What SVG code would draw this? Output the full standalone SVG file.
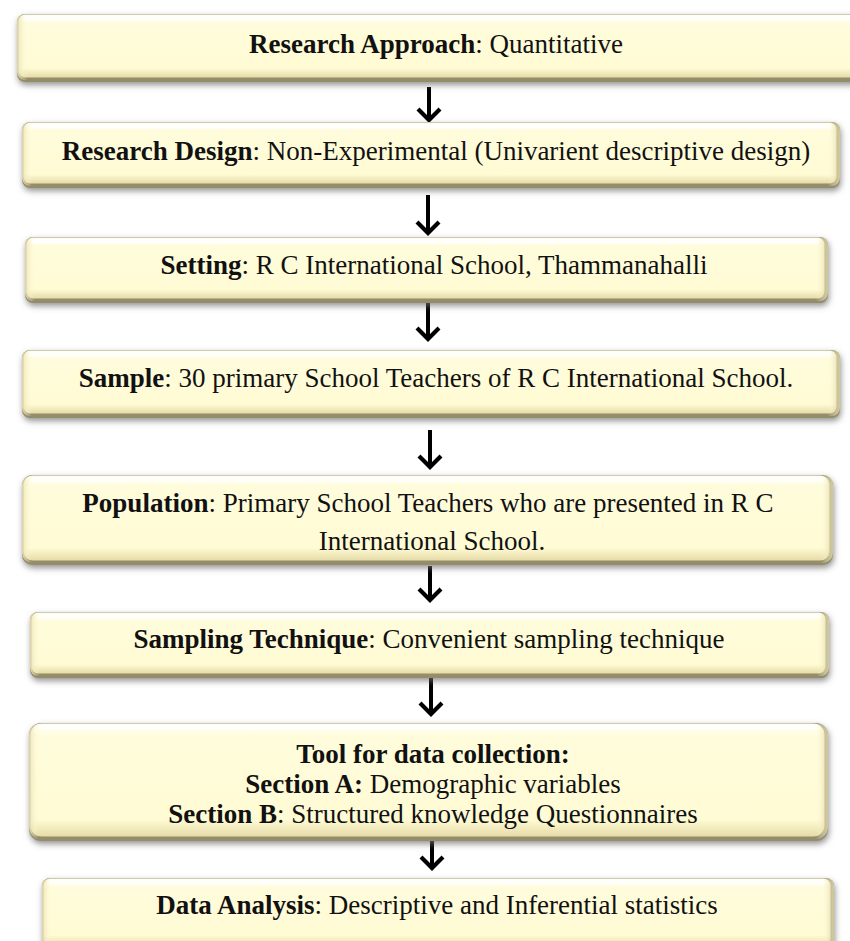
<svg xmlns="http://www.w3.org/2000/svg" width="850" height="941" viewBox="0 0 850 941">
  <defs>
    <!-- soft shadow under each bevelled box -->
    <filter id="shadow" x="-5%" y="-30%" width="110%" height="170%">
      <feDropShadow dx="1" dy="3" stdDeviation="3" flood-color="#6e6e6e" flood-opacity="0.75"/>
    </filter>
    <filter id="soft" x="-5%" y="-100%" width="110%" height="300%">
      <feGaussianBlur stdDeviation="1.2"/>
    </filter>
    <linearGradient id="faceFill" x1="0" y1="0" x2="0" y2="1">
      <stop offset="0" stop-color="#fffef2"/>
      <stop offset="0.12" stop-color="#fffcdc"/>
      <stop offset="0.85" stop-color="#fffbd4"/>
      <stop offset="1" stop-color="#e6dba8"/>
    </linearGradient>
    <linearGradient id="sideFill" x1="0" y1="0" x2="1" y2="0">
      <stop offset="0" stop-color="#e9dfb2" stop-opacity="0.9"/>
      <stop offset="0.012" stop-color="#fffbd6" stop-opacity="0"/>
      <stop offset="0.985" stop-color="#fffbd6" stop-opacity="0"/>
      <stop offset="1" stop-color="#d9cfa0" stop-opacity="0.9"/>
    </linearGradient>
    <!-- open chevron head, drawn along +x so orient="auto" turns it with the line -->
    <marker id="head" markerUnits="userSpaceOnUse" markerWidth="30" markerHeight="30" refX="26" refY="15" orient="auto" viewBox="0 0 30 30">
      <path d="M15,4 L26,15 L15,26" fill="none" stroke="#000" stroke-width="4.2" stroke-linejoin="miter" stroke-linecap="butt"/>
    </marker>
  </defs>
  <style>
    .edge { fill: #958c6a; filter: url(#shadow); }
    .face { fill: url(#faceFill); }
    .side { fill: url(#sideFill); }
    .shine { fill: #ffffff; opacity: 0.9; filter: url(#soft); }
    .label { font-family: "Liberation Serif", "Times New Roman", serif; font-size: 27px; fill: #111; text-anchor: middle; }
    .label .b { font-weight: bold; }
    .arrow { stroke: #000; stroke-width: 4; fill: none; marker-end: url(#head); }
  </style>

  <rect width="850" height="941" fill="#ffffff"/>

  <!-- connectors -->
  <g id="connectors">
    <line class="arrow" x1="429" y1="87" x2="429" y2="120"/>
    <line class="arrow" x1="428" y1="195" x2="428" y2="233"/>
    <line class="arrow" x1="428" y1="302" x2="428" y2="339"/>
    <line class="arrow" x1="430" y1="430" x2="430" y2="467"/>
    <line class="arrow" x1="430" y1="566" x2="430" y2="600"/>
    <line class="arrow" x1="431" y1="677" x2="431" y2="714"/>
    <line class="arrow" x1="432" y1="831" x2="432" y2="868"/>
  </g>

  <g id="research-approach">
    <rect class="edge" x="17" y="14" width="860" height="68" rx="8"/>
    <rect class="face" x="18.5" y="14.5" width="856" height="63" rx="7"/>
    <rect class="side" x="17" y="14" width="860" height="66" rx="8"/>
    <rect class="shine" x="24" y="16" width="846" height="5" rx="2.5"/>
    <text class="label" x="436" y="53"><tspan class="b">Research Approach</tspan>: Quantitative</text>
  </g>

  <g id="research-design">
    <rect class="edge" x="22" y="122" width="818" height="66" rx="8"/>
    <rect class="face" x="23.5" y="122.5" width="813" height="61" rx="7"/>
    <rect class="side" x="22" y="122" width="818" height="64" rx="8"/>
    <rect class="shine" x="29" y="124" width="802" height="5" rx="2.5"/>
    <text class="label" x="436" y="160"><tspan class="b">Research Design</tspan>: Non-Experimental (Univarient descriptive design)</text>
  </g>

  <g id="setting">
    <rect class="edge" x="25" y="237" width="803" height="66" rx="8"/>
    <rect class="face" x="26.5" y="237.5" width="798" height="61" rx="7"/>
    <rect class="side" x="25" y="237" width="803" height="64" rx="8"/>
    <rect class="shine" x="32" y="239" width="787" height="5" rx="2.5"/>
    <text class="label" x="434" y="274"><tspan class="b">Setting</tspan>: R C International School, Thammanahalli</text>
  </g>

  <g id="sample">
    <rect class="edge" x="22" y="350" width="818" height="68" rx="8"/>
    <rect class="face" x="23.5" y="350.5" width="813" height="63" rx="7"/>
    <rect class="side" x="22" y="350" width="818" height="66" rx="8"/>
    <rect class="shine" x="29" y="352" width="802" height="5" rx="2.5"/>
    <text class="label" x="436" y="387"><tspan class="b">Sample</tspan>: 30 primary School Teachers of R C International School.</text>
  </g>

  <g id="population">
    <rect class="edge" x="22" y="475" width="811" height="90" rx="10"/>
    <rect class="face" x="23.5" y="475.5" width="806" height="85" rx="9"/>
    <rect class="side" x="22" y="475" width="811" height="88" rx="10"/>
    <rect class="shine" x="30" y="477" width="794" height="5" rx="2.5"/>
    <text class="label" x="428" y="512"><tspan class="b">Population</tspan>: Primary School Teachers who are presented in R C</text>
    <text class="label" x="432" y="550">International School.</text>
  </g>

  <g id="sampling-technique">
    <rect class="edge" x="30" y="612" width="799" height="66" rx="8"/>
    <rect class="face" x="31.5" y="612.5" width="794" height="61" rx="7"/>
    <rect class="side" x="30" y="612" width="799" height="64" rx="8"/>
    <rect class="shine" x="37" y="614" width="783" height="5" rx="2.5"/>
    <text class="label" x="429" y="648"><tspan class="b">Sampling Technique</tspan>: Convenient sampling technique</text>
  </g>

  <g id="data-collection-tool">
    <rect class="edge" x="29" y="723" width="799" height="118" rx="12"/>
    <rect class="face" x="30.5" y="723.5" width="794" height="113" rx="11"/>
    <rect class="side" x="29" y="723" width="799" height="116" rx="12"/>
    <rect class="shine" x="39" y="725" width="779" height="5" rx="2.5"/>
    <text class="label" x="433" y="763"><tspan class="b">Tool for data collection:</tspan></text>
    <text class="label" x="433" y="793"><tspan class="b">Section A:</tspan> Demographic variables</text>
    <text class="label" x="433" y="823"><tspan class="b">Section B</tspan>: Structured knowledge Questionnaires</text>
  </g>

  <g id="data-analysis">
    <rect class="edge" x="42" y="878" width="792" height="72" rx="8"/>
    <rect class="face" x="43.5" y="878.5" width="787" height="67" rx="7"/>
    <rect class="side" x="42" y="878" width="792" height="70" rx="8"/>
    <rect class="shine" x="49" y="880" width="776" height="5" rx="2.5"/>
    <text class="label" x="437" y="914"><tspan class="b">Data Analysis</tspan>: Descriptive and Inferential statistics</text>
  </g>
</svg>
